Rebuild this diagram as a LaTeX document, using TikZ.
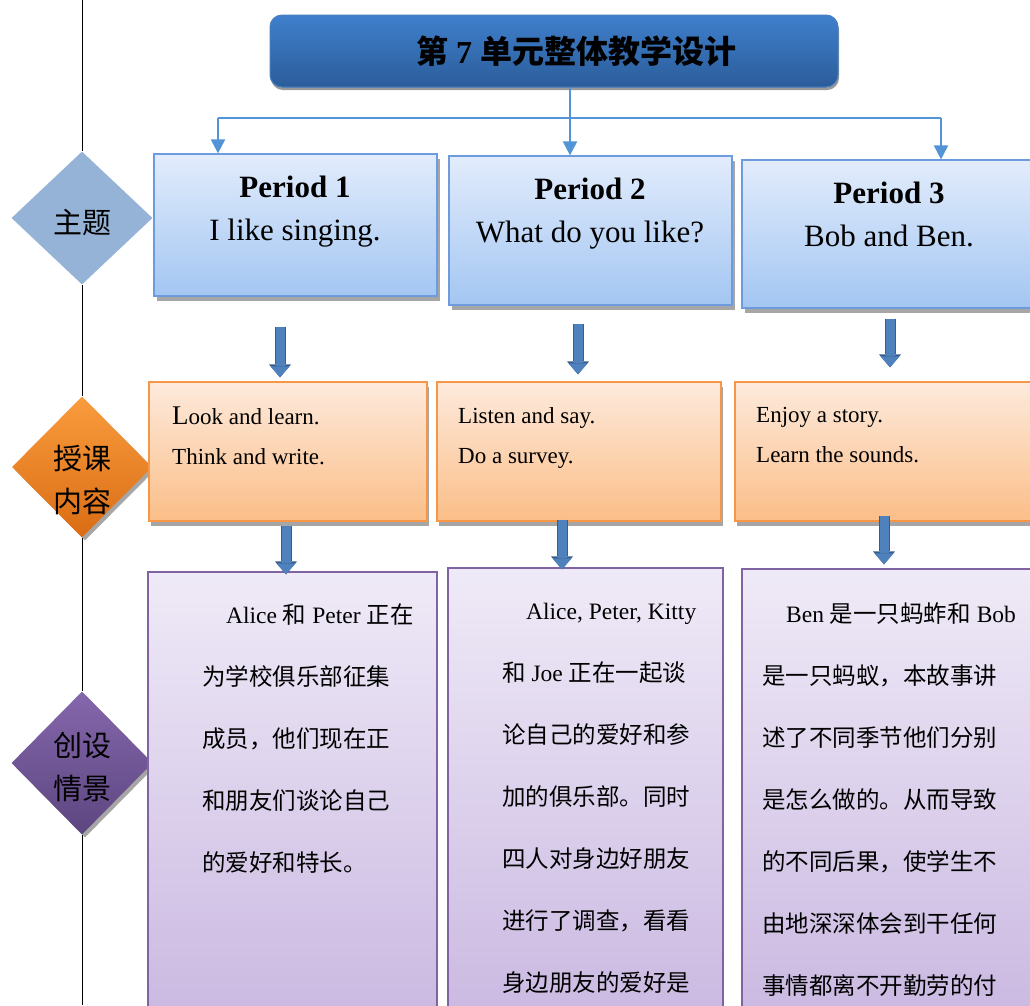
\documentclass[tikz,border=0pt]{standalone}
\usepackage{fontspec}
\setmainfont{Liberation Serif}
\newfontfamily\cjk{Noto Sans CJK SC}
\newcommand{\zh}[1]{{\cjk #1}}
\usetikzlibrary{shapes.geometric,shadows,arrows.meta}

\definecolor{themeblue}{HTML}{95B3D7}
\definecolor{titletop}{HTML}{3F80CC}
\definecolor{titlebot}{HTML}{2B5C9A}
\definecolor{titleedge}{HTML}{4A7EC0}
\definecolor{linkblue}{HTML}{5394D6}
\definecolor{periodtop}{HTML}{E2ECFC}
\definecolor{periodbot}{HTML}{A3C6F2}
\definecolor{periodedge}{HTML}{6C9BDE}
\definecolor{lessontop}{HTML}{FDEADC}
\definecolor{lessonbot}{HTML}{FBBE88}
\definecolor{lessonedge}{HTML}{F79646}
\definecolor{scenetop}{HTML}{EFEAF7}
\definecolor{scenebot}{HTML}{C8B6E0}
\definecolor{sceneedge}{HTML}{8064A2}
\definecolor{orangetop}{HTML}{F99C3E}
\definecolor{orangebot}{HTML}{DA6C14}
\definecolor{purpletop}{HTML}{8567AC}
\definecolor{purplebot}{HTML}{5C4680}
\definecolor{arrowfill}{HTML}{4F81BD}
\definecolor{arrowedge}{HTML}{385D8A}

\begin{document}
\begin{tikzpicture}[x=1pt, y=-1pt,
    tagbox/.style={diamond, aspect=1, inner sep=0pt},
    tagtext/.style={align=center, inner sep=0pt, font=\cjk\fontsize{29}{43}\selectfont},
    titlebox/.style={rectangle, rounded corners=12pt, draw=titleedge, line width=1pt, top color=titletop, bottom color=titlebot, minimum width=568pt, minimum height=72pt, font=\bfseries\fontsize{32}{38}\selectfont, drop shadow={shadow xshift=1pt, shadow yshift=-3pt, fill=black!40, opacity=1}},
    period/.style={rectangle, draw=periodedge, line width=1.2pt, top color=periodtop, bottom color=periodbot, drop shadow={shadow xshift=3pt, shadow yshift=-5pt, fill=black!35, opacity=1}},
    lesson/.style={rectangle, draw=lessonedge, line width=1.2pt, top color=lessontop, bottom color=lessonbot, minimum height=139pt, drop shadow={shadow xshift=2pt, shadow yshift=-5pt, fill=black!35, opacity=1}},
    scene/.style={rectangle, draw=sceneedge, line width=1.2pt, top color=scenetop, bottom color=scenebot},
    periodtext/.style={align=center, inner sep=0pt, font=\fontsize{31}{43}\selectfont},
    lessontext/.style={align=left, inner sep=0pt, anchor=north west, font=\fontsize{23}{40}\selectfont},
    scenetext/.style={align=left, inner sep=0pt, anchor=north west, font=\fontsize{23.5}{62}\selectfont},
    linkline/.style={draw=linkblue, line width=2pt, -{Triangle[width=14pt,length=14pt]}},
    linkbar/.style={draw=linkblue, line width=2pt},
    blockarrow/.style={draw=arrowfill, line width=9pt, -{Triangle[width=19pt,length=11pt,line width=0pt]}, preaction={draw=arrowedge, line width=11pt, -{Triangle[width=22pt,length=13pt,line width=0pt]}}},
    rail/.style={draw=black, line width=1pt}
]
\useasboundingbox (0,0) rectangle (1030,1005);
\clip (0,0) rectangle (1030,1005);

% Title
\node[titlebox] (title) at (554,51) {\hspace*{44pt}\zh{第} 7 \zh{单元整体教学设计}};

% Row labels
\coordinate (railtop) at (82,0);
\coordinate (railbot) at (82,1005);
\node[tagbox, fill=themeblue, minimum width=141pt, minimum height=133pt, label={[tagtext, yshift=-5pt]center:主题}] (theme) at (82,218) {};
\node[tagbox, top color=orangetop, bottom color=orangebot, minimum width=140pt, minimum height=141pt, drop shadow={shadow xshift=3pt, shadow yshift=-3pt, fill=black!35, opacity=1}, label={[tagtext, yshift=-13pt]center:授课\\内容}] (content) at (82,467) {};
\node[tagbox, top color=purpletop, bottom color=purplebot, minimum width=141pt, minimum height=143pt, drop shadow={shadow xshift=3pt, shadow yshift=-3pt, fill=black!35, opacity=1}, label={[tagtext, yshift=-4pt]center:创设\\情景}] (setting) at (82,763) {};

\draw[rail] (railtop) -- (theme.north) (theme.south) -- (content.north) (content.south) -- (setting.north) (setting.south) -- (railbot);

% Periods
\node[period, minimum width=283pt, minimum height=142pt] (p1) at (295.5,225) {};
\node[period, minimum width=283pt, minimum height=149pt] (p2) at (590.5,230.5) {};
\node[period, minimum width=298pt, minimum height=148pt] (p3) at (891,234) {};
\node[periodtext] (p1t) at (295,211.5) {\textbf{Period 1}\\I like singing.};
\node[periodtext] (p2t) at (590,213.5) {\textbf{Period 2}\\What do you like?};
\node[periodtext] (p3t) at (889,214) {\textbf{Period 3}\\Bob and Ben.};

% Lesson content
\node[lesson, minimum width=278pt] (o1) at (288,451.5) {};
\node[lesson, minimum width=284pt] (o2) at (579,451.5) {};
\node[lesson, minimum width=305pt] (o3) at (887.5,451.5) {};
\node[lessontext] (o1t) at (172,407) {{\fontsize{27}{40}\selectfont L}ook and learn.\\Think and write.};
\node[lessontext] (o2t) at (458,407) {Listen and say.\\Do a survey.};
\node[lessontext] (o3t) at (756,407) {Enjoy a story.\\Learn the sounds.};

% Scene setting
\node[scene, minimum width=289pt, minimum height=470pt] (u1) at (292.5,807) {};
\node[scene, minimum width=275pt, minimum height=474pt] (u2) at (585.5,805) {};
\node[scene, minimum width=298pt, minimum height=472pt] (u3) at (891,805) {};
\node[scenetext] (u1t) at (202,604) {\hspace*{24pt}Alice \zh{和} Peter \zh{正在}\\\zh{为学校俱乐部征集}\\\zh{成员，他们现在正}\\\zh{和朋友们谈论自己}\\\zh{的爱好和特长。}};
\node[scenetext] (u2t) at (502,603) {\hspace*{24pt}Alice, Peter, Kitty\\\zh{和} Joe \zh{正在一起谈}\\\zh{论自己的爱好和参}\\\zh{加的俱乐部。同时}\\\zh{四人对身边好朋友}\\\zh{进行了调查，看看}\\\zh{身边朋友的爱好是}};
\node[scenetext] (u3t) at (762,602) {\hspace*{24pt}Ben \zh{是一只蚂蚱和} Bob\\\zh{是一只蚂蚁，本故事讲}\\\zh{述了不同季节他们分别}\\\zh{是怎么做的。从而导致}\\\zh{的不同后果，使学生不}\\\zh{由地深深体会到干任何}\\\zh{事情都离不开勤劳的付}};

% Title links
\coordinate (split) at (570,118);
\coordinate (splitl) at (218,118);
\coordinate (splitr) at (941,118);
\draw[linkline] (title.south -| split) -- (split |- p2.north);
\draw[linkbar] (splitl) -- (splitr);
\draw[linkline] (splitl) -- (splitl |- p1.north);
\draw[linkline] (splitr) -- (splitr |- p3.north);

% Block arrows
\draw[blockarrow, shorten <=30pt, shorten >=4pt] ([xshift=-15.5pt]p1.south) -- ([xshift=-8pt]o1.north);
\draw[blockarrow, shorten <=18pt, shorten >=7pt] ([xshift=-12.5pt]p2.south) -- ([xshift=-1pt]o2.north);
\draw[blockarrow, shorten <=10pt, shorten >=14pt] ([xshift=-1pt]p3.south) -- ([xshift=2.5pt]o3.north);
\draw[blockarrow, shorten <=4pt, shorten >=-3pt] ([xshift=-2pt]o1.south) -- ([xshift=-6.5pt]u1.north);
\draw[blockarrow, shorten <=-2pt, shorten >=-2pt] ([xshift=-17pt]o2.south) -- ([xshift=-23.5pt]u2.north);
\draw[blockarrow, shorten <=-6pt, shorten >=4pt] ([xshift=-3.5pt]o3.south) -- ([xshift=-7pt]u3.north);

\end{tikzpicture}
\end{document}
